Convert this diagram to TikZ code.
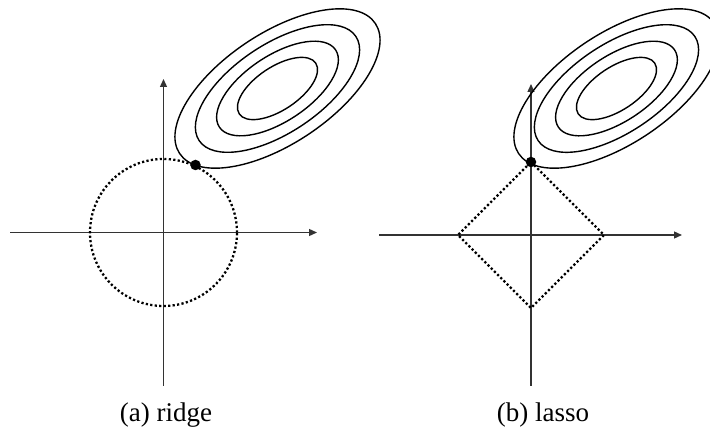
\documentclass[tikz,border=0pt]{standalone}
\usepackage{fontspec}
\setmainfont{Liberation Serif}
\usetikzlibrary{arrows.meta}
\begin{document}
\begin{tikzpicture}[x=1pt,y=-1pt,
  axis/.style={draw=black!80,line width=1.3pt,-{Triangle[length=8pt,width=7pt]}},
  contour/.style={draw=black,line width=1.4pt},
  constraint/.style={draw=black,line width=2.3pt,dash pattern=on 2.2pt off 2.3pt},
  optpt/.style={circle,fill=black,inner sep=0pt,minimum size=10.5pt},
  caption/.style={font=\fontsize{27}{32}\selectfont,anchor=base,inner sep=0pt}]
\useasboundingbox (0,0) rectangle (710,446);
% ---------- (a) ridge ----------
\coordinate (oa) at (163.5,232.5);
\coordinate (axl) at (10,232.5);
\coordinate (axr) at (317,232.5);
\coordinate (ayb) at (163.5,386);
\coordinate (ayt) at (163.5,79);
\draw[axis] (axl) -- (axr);
\draw[axis] (ayb) -- (ayt);
\draw[constraint] (oa) circle[radius=73.5pt];
\coordinate (ca) at (277.5,88.5);
\foreach \s in {1,1.52,2.05,2.56}{
  \draw[contour,rotate around={33.6:(ca)}] (ca) ellipse[x radius=45.9pt*\s, y radius=21.6pt*\s];
}
\node[optpt] (pa) at (195.5,165) {};
\node[caption] (la) at (166,421) {(a) ridge};
% ---------- (b) lasso ----------
\coordinate (ob) at (531,235);
\coordinate (bxl) at (379,235);
\coordinate (bxr) at (682,235);
\coordinate (byb) at (531,386);
\coordinate (byt) at (531,84);
\draw[axis] (bxl) -- (bxr);
\draw[axis] (byb) -- (byt);
\coordinate (dt) at (531,162);
\coordinate (dr) at (604,235);
\coordinate (db) at (531,308);
\coordinate (dl) at (458,235);
\draw[constraint] (dt) -- (dr) -- (db) -- (dl) -- cycle;
\coordinate (cb) at (616.5,88.5);
\foreach \s in {1,1.52,2.05,2.56}{
  \draw[contour,rotate around={33.6:(cb)}] (cb) ellipse[x radius=45.9pt*\s, y radius=21.6pt*\s];
}
\node[optpt] (pb) at (dt) {};
\node[caption] (lb) at (543,421) {(b) lasso};
\end{tikzpicture}
\end{document}
